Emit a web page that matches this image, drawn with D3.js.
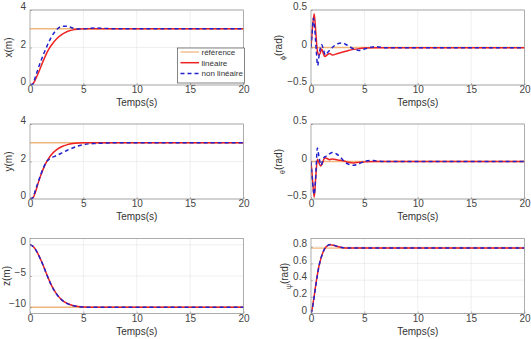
<!DOCTYPE html>
<html>
<head>
<meta charset="utf-8">
<script src="https://cdn.jsdelivr.net/npm/d3@7"></script>
<style>
  body { margin: 0; background: #fff; }
  svg { display: block; font-family: 'Liberation Sans', Arial, sans-serif; }
</style>
</head>
<body>
<svg id="chart" width="531" height="339"></svg>
<script>
// Time axis (shared)
const timeDomain = [0, 20];
const timeTicks = [0, 5, 10, 15, 20];

// Legend labels
const seriesNames = ['référence', 'linéaire', 'non linéaire'];

// x(m)
const xRef = [[0, 3], [20, 3]];
const xLin = [[0,0],[0.25,0.05],[0.5,0.28],[0.75,0.6],[1,0.95],[1.25,1.3],[1.5,1.62],[1.75,1.9],[2,2.12],[2.5,2.47],[3,2.7],[3.5,2.85],[4,2.94],[4.5,2.98],[5,3.0],[6,3.0],[20,3.0]];
const xNonLin = [[0,0],[0.25,0.04],[0.5,0.42],[0.75,0.85],[1,1.25],[1.25,1.62],[1.5,1.95],[1.75,2.28],[2,2.56],[2.5,2.95],[3,3.13],[3.5,3.13],[4,3.04],[4.5,2.99],[5,2.99],[5.5,3.02],[6,3.04],[7,3.02],[8,3.0],[20,3.0]];

// y(m)
const yRef = [[0, 3], [20, 3]];
const yLin = [[0,0],[0.25,0.04],[0.5,0.35],[0.75,0.82],[1,1.25],[1.25,1.62],[1.5,1.93],[1.75,2.17],[2,2.36],[2.5,2.63],[3,2.8],[3.5,2.9],[4,2.96],[4.5,2.99],[5,3.0],[20,3.0]];
const yNonLin = [[0,0],[0.25,0.06],[0.5,0.45],[0.75,0.88],[1,1.28],[1.25,1.65],[1.5,1.95],[1.75,2.1],[2,2.19],[2.5,2.32],[3,2.46],[3.5,2.6],[4,2.72],[4.5,2.83],[5,2.9],[5.5,2.94],[6,2.96],[7,2.98],[8,3.0],[20,3.0]];

// z(m)
const zRef = [[0, -10], [20, -10]];
const zLin = [[0,0],[0.25,-0.2],[0.5,-0.7],[0.75,-1.45],[1,-2.35],[1.25,-3.35],[1.5,-4.45],[1.75,-5.5],[2,-6.45],[2.5,-7.9],[3,-8.85],[3.5,-9.4],[4,-9.72],[4.5,-9.88],[5,-9.96],[6,-10.01],[7,-10.0],[20,-10.0]];
const zNonLin = [[0,0],[0.25,-0.22],[0.5,-0.72],[0.75,-1.48],[1,-2.38],[1.25,-3.38],[1.5,-4.48],[1.75,-5.52],[2,-6.47],[2.5,-7.92],[3,-8.86],[3.5,-9.41],[4,-9.73],[4.5,-9.89],[5,-9.97],[6,-10.01],[7,-10.0],[20,-10.0]];

// phi(rad)
const phiRef = [[0, 0], [20, 0]];
const phiLin = [[0,0],[0.15,0.28],[0.3,0.45],[0.45,0.2],[0.6,-0.05],[0.75,-0.1],[0.85,-0.08],[1.0,-0.02],[1.15,-0.08],[1.3,-0.12],[1.5,-0.1],[1.75,-0.08],[2.0,-0.1],[2.5,-0.08],[3,-0.06],[3.5,-0.04],[4,-0.025],[4.5,-0.015],[5,-0.008],[6,-0.003],[20,-0.003]];
const phiNonLin = [[0,0],[0.1,0.18],[0.22,0.39],[0.35,0.25],[0.5,-0.05],[0.62,-0.24],[0.8,-0.06],[1.0,0.04],[1.15,-0.02],[1.35,-0.1],[1.6,-0.06],[2,0.0],[2.5,0.05],[2.9,0.06],[3.4,0.03],[4,-0.02],[4.5,-0.04],[5,-0.02],[5.5,0.0],[6,0.01],[7,-0.003],[20,-0.003]];

// theta(rad)
const thetaRef = [[0, 0], [20, 0]];
const thetaLin = [[0,0],[0.15,-0.25],[0.3,-0.48],[0.45,-0.2],[0.6,0.03],[0.75,-0.02],[0.9,-0.06],[1.05,-0.03],[1.3,0.05],[1.5,0.04],[1.75,0.025],[2,0.035],[2.5,0.02],[3,0.01],[3.5,-0.01],[4,-0.02],[4.5,-0.01],[5,-0.005],[6,0],[20,0]];
const thetaNonLin = [[0,0],[0.15,-0.28],[0.3,-0.44],[0.42,-0.25],[0.6,0.18],[0.75,0.06],[0.95,-0.05],[1.15,0.04],[1.4,0.07],[1.7,0.1],[2,0.12],[2.4,0.1],[2.8,0.05],[3.2,-0.01],[3.6,-0.04],[4,-0.05],[4.5,-0.03],[5,0],[5.5,0.015],[6,0.01],[7,0],[20,0]];

// psi(rad)
const psiRef = [[0, 0.785], [20, 0.785]];
const psiLin = [[0,0],[0.1,0.05],[0.25,0.17],[0.5,0.39],[0.75,0.57],[1,0.69],[1.25,0.77],[1.5,0.81],[1.8,0.826],[2.1,0.82],[2.5,0.803],[3,0.79],[3.5,0.786],[4,0.785],[20,0.785]];
const psiNonLin = [[0,0],[0.1,0.04],[0.25,0.16],[0.5,0.38],[0.75,0.57],[1,0.69],[1.25,0.77],[1.5,0.81],[1.8,0.827],[2.1,0.821],[2.5,0.804],[3,0.79],[3.5,0.786],[4,0.785],[20,0.785]];

// y ticks per panel
const ticksPos = [0, 2, 4];
const ticksZ = [-10, -5, 0];
const ticksAngle = [-0.5, 0, 0.5];
const ticksPsi = [0, 0.2, 0.4, 0.6, 0.8];

const colors = { ref: '#f0b77c', lin: '#ee2222', nl: '#2222cc' };

// Layout
const colLeft = [30, 311];
const plotW = 213.5;
const rowTop = [10, 124, 238.5];
const plotH = 75;

const panels = [
  { col: 0, row: 0, label: 'x(m)', domain: [0, 4], ticks: ticksPos, data: [xRef, xLin, xNonLin], labelX: 12, legend: true },
  { col: 0, row: 1, label: 'y(m)', domain: [0, 4], ticks: ticksPos, data: [yRef, yLin, yNonLin], labelX: 12 },
  { col: 0, row: 2, label: 'z(m)', domain: [-11, 1], ticks: ticksZ, data: [zRef, zLin, zNonLin], labelX: 9.5 },
  { col: 1, row: 0, greek: 'ϕ', label: '(rad)', domain: [-0.5, 0.5], ticks: ticksAngle, data: [phiRef, phiLin, phiNonLin], labelX: 282 },
  { col: 1, row: 1, greek: 'θ', label: '(rad)', domain: [-0.5, 0.5], ticks: ticksAngle, data: [thetaRef, thetaLin, thetaNonLin], labelX: 282 },
  { col: 1, row: 2, greek: 'ψ', label: '(rad)', domain: [0, 0.9], ticks: ticksPsi, data: [psiRef, psiLin, psiNonLin], labelX: 288 }
];

const svg = d3.select('#chart');
svg.append('rect').attr('width', 531).attr('height', 339).attr('fill', '#fff');

panels.forEach((p, i) => {
  const left = colLeft[p.col];
  const top = rowTop[p.row];
  const g = svg.append('g').attr('transform', `translate(${left},${top})`);

  const x = d3.scaleLinear().domain(timeDomain).range([0, plotW]);
  const y = d3.scaleLinear().domain(p.domain).range([plotH, 0]);

  // Grid
  g.append('g').selectAll('line')
    .data(timeTicks.slice(1, -1))
    .enter().append('line')
    .attr('x1', d => x(d)).attr('x2', d => x(d))
    .attr('y1', 0).attr('y2', plotH)
    .attr('stroke', '#e4e4e4').attr('stroke-width', 0.6);
  g.append('g').selectAll('line')
    .data(p.ticks)
    .enter().append('line')
    .attr('x1', 0).attr('x2', plotW)
    .attr('y1', d => y(d)).attr('y2', d => y(d))
    .attr('stroke', '#e4e4e4').attr('stroke-width', 0.6);

  // Clip
  g.append('clipPath').attr('id', 'clip' + i)
    .append('rect').attr('width', plotW).attr('height', plotH);

  const line = d3.line()
    .x(d => x(d[0]))
    .y(d => y(d[1]))
    .curve(d3.curveMonotoneX);

  const lines = g.append('g').attr('clip-path', `url(#clip${i})`);
  lines.append('path').datum(p.data[0])
    .attr('d', line).attr('fill', 'none')
    .attr('stroke', colors.ref).attr('stroke-width', 1.3);
  lines.append('path').datum(p.data[1])
    .attr('d', line).attr('fill', 'none')
    .attr('stroke', colors.lin).attr('stroke-width', 1.5);
  lines.append('path').datum(p.data[2])
    .attr('d', line).attr('fill', 'none')
    .attr('stroke', colors.nl).attr('stroke-width', 1.5)
    .attr('stroke-dasharray', '4,3');

  // Axes
  const xAxis = g.append('g').attr('transform', `translate(0,${plotH})`)
    .call(d3.axisBottom(x).tickValues(timeTicks).tickSizeInner(-2).tickSizeOuter(0).tickPadding(1));
  const yAxis = g.append('g')
    .call(d3.axisLeft(y).tickValues(p.ticks).tickSizeInner(-2).tickSizeOuter(0).tickPadding(4).tickFormat(d3.format('')));
  [xAxis, yAxis].forEach(a => {
    a.select('.domain').remove();
    a.selectAll('line').attr('stroke', '#8a8a8a').attr('stroke-width', 0.6);
    a.selectAll('text').attr('font-size', 10).attr('fill', '#444')
      .attr('font-family', "'Liberation Sans', Arial, sans-serif");
  });
  yAxis.selectAll('text').attr('dy', '-0.05em');

  // Box
  g.append('rect')
    .attr('width', plotW).attr('height', plotH)
    .attr('fill', 'none').attr('stroke', '#8a8a8a').attr('stroke-width', 0.7);

  // Axis labels
  g.append('text')
    .attr('x', plotW / 2).attr('y', plotH + 21)
    .attr('text-anchor', 'middle')
    .attr('font-size', 10).attr('fill', '#333')
    .text('Temps(s)');

  const yl = svg.append('text')
    .attr('transform', `translate(${p.labelX},${top + plotH / 2}) rotate(-90)`)
    .attr('text-anchor', 'middle')
    .attr('font-size', 10).attr('fill', '#333');
  if (p.greek) {
    yl.append('tspan').attr('font-size', 7).attr('dy', 3).text(p.greek);
    yl.append('tspan').attr('dy', -3).text(p.label);
  } else {
    yl.text(p.label);
  }

  // Legend
  if (p.legend) {
    const lg = g.append('g').attr('transform', `translate(${177.5 - left},${48 - top})`);
    lg.append('rect')
      .attr('width', 67).attr('height', 35)
      .attr('fill', '#fff').attr('stroke', '#333').attr('stroke-width', 0.6);
    const styles = [
      { c: colors.ref, dash: null, w: 1.3 },
      { c: colors.lin, dash: null, w: 1.5 },
      { c: colors.nl, dash: '4,3', w: 1.5 }
    ];
    seriesNames.forEach((name, k) => {
      const ly = 4 + k * 10.7;
      lg.append('line')
        .attr('x1', 3).attr('x2', 21.5)
        .attr('y1', ly).attr('y2', ly)
        .attr('stroke', styles[k].c).attr('stroke-width', styles[k].w)
        .attr('stroke-dasharray', styles[k].dash);
      lg.append('text')
        .attr('x', 24).attr('y', ly).attr('dy', '0.35em')
        .attr('font-size', 8).attr('fill', '#333')
        .text(name);
    });
  }
});
</script>
</body>
</html>
